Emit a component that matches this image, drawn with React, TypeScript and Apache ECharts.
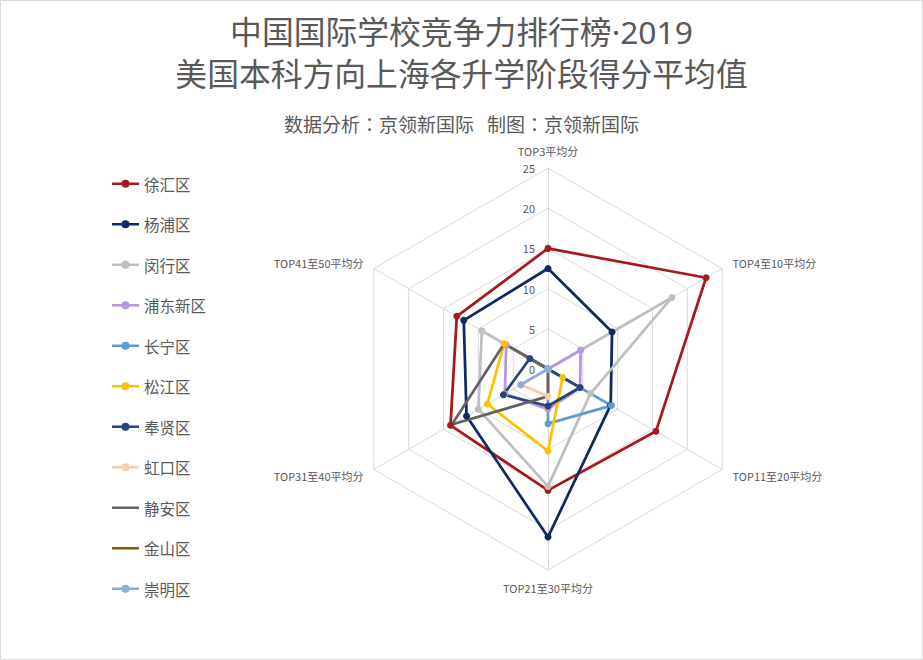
import React, { useEffect, useRef } from "react";
import * as echarts from "echarts";

const FONT = "'Noto Sans CJK SC', 'Noto Sans', sans-serif";
const TITLE_FONT = "'Noto Sans', 'Noto Sans CJK SC', sans-serif";
const SUB_FONT = "'Noto Sans CJK TC', 'Noto Sans CJK SC', sans-serif";

const titleLines = ["中国国际学校竞争力排行榜·2019", "美国本科方向上海各升学阶段得分平均值"];
const subtitle = "数据分析：京领新国际   制图：京领新国际";

// Indicators in the order of the reference (clockwise from top)
const indicators = [
  "TOP3平均分",
  "TOP4至10平均分",
  "TOP11至20平均分",
  "TOP21至30平均分",
  "TOP31至40平均分",
  "TOP41至50平均分",
];
const indicatorMax = 25;

const districts = [
  "徐汇区",
  "杨浦区",
  "闵行区",
  "浦东新区",
  "长宁区",
  "松江区",
  "奉贤区",
  "虹口区",
  "静安区",
  "金山区",
  "崇明区",
];

const colors = [
  "#A5191F",
  "#0E2A62",
  "#BFBFBF",
  "#B996E0",
  "#5B9BD5",
  "#FFC000",
  "#264478",
  "#F8CBAD",
  "#636363",
  "#7F6000",
  "#8EA9DB",
];

const noMarker = ["静安区", "金山区"];

// values: TOP3, TOP4-10, TOP11-20, TOP21-30, TOP31-40, TOP41-50
const xuhui = [15.0, 22.7, 15.5, 15.1, 14.0, 13.1];
const yangpu = [12.5, 9.2, 9.0, 20.9, 11.7, 12.1];
const minhang = [0, 17.8, 6.1, 14.6, 10.0, 9.5];
const pudong = [0, 4.7, 4.6, 5.0, 6.2, 6.0];
const changning = [0, 0, 9.1, 6.8, 0, 0];
const songjiang = [0, 0, 2.1, 10.2, 8.7, 6.3];
const fengxian = [0, 0, 4.6, 4.6, 6.4, 2.6];
const hongkou = [0, 0, 0, 3.4, 3.9, 0];
const jingan = [0, 0, 0, 3.4, 13.8, 6.3];
const jinshan = [0, 0, 0, 0, 0, 0];
const chongming = [0, 0, 0, 0, 3.9, 0];

const seriesValues = [
  xuhui,
  yangpu,
  minhang,
  pudong,
  changning,
  songjiang,
  fengxian,
  hongkou,
  jingan,
  jinshan,
  chongming,
];

// ECharts places indicators counter-clockwise; reorder to get clockwise layout
const order = [0, 5, 4, 3, 2, 1];

const iconMarker =
  "path://M0,0h0.01v0.01h-0.01Z M26.99,7.99h0.01v0.01h-0.01Z M0,2.75H27V5.25H0Z M9.5,4A4,4 0 1 1 17.5,4A4,4 0 1 1 9.5,4Z";
const iconLine =
  "path://M0,0h0.01v0.01h-0.01Z M26.99,7.99h0.01v0.01h-0.01Z M0,2.75H27V5.25H0Z";

export default function App() {
  const ref = useRef<HTMLDivElement>(null);

  useEffect(() => {
    document.body.style.margin = "0";
    if (!ref.current) return;
    const chart = echarts.init(ref.current, undefined, { renderer: "svg" });

    const option: any = {
      animation: false,
      backgroundColor: "#ffffff",
      textStyle: { fontFamily: FONT },
      title: [
        {
          text: titleLines.join("\n"),
          left: "center",
          top: 5,
          textStyle: {
            fontSize: 31.8,
            fontWeight: "normal",
            color: "#595959",
            lineHeight: 42,
            fontFamily: TITLE_FONT,
          },
        },
        {
          text: subtitle,
          left: "center",
          top: 107,
          textStyle: {
            fontSize: 19,
            fontWeight: "normal",
            color: "#595959",
            lineHeight: 22,
            fontFamily: SUB_FONT,
          },
        },
      ],
      legend: {
        orient: "vertical",
        left: 107,
        top: 171,
        itemWidth: 27,
        itemHeight: 8,
        itemGap: 25,
        selectedMode: false,
        textStyle: { color: "#595959", fontSize: 15.5, fontFamily: FONT },
        data: districts.map((name) => ({
          name,
          icon: noMarker.includes(name) ? iconLine : iconMarker,
        })),
      },
      radar: {
        center: [548, 369],
        radius: 201,
        startAngle: 90,
        shape: "polygon",
        splitNumber: 5,
        nameGap: 12,
        axisName: { color: "#595959", fontSize: 11, fontFamily: FONT },
        indicator: order.map((k, i) => {
          const ind: any = { name: indicators[k], max: indicatorMax, min: 0 };
          if (i === 0) ind.axisLabel = { show: true };
          return ind;
        }),
        axisLine: { lineStyle: { color: "#D9D9D9", width: 1 } },
        splitLine: { lineStyle: { color: "#D9D9D9", width: 1 } },
        splitArea: { show: false },
        axisTick: { show: false },
        axisLabel: {
          show: false,
          color: "#595959",
          fontSize: 11,
          margin: 13,
          fontFamily: FONT,
        },
      },
      graphic: [
        {
          type: "rect",
          shape: { x: 0.5, y: 0.5, width: 922, height: 659 },
          style: { fill: "none", stroke: "#D9D9D9", lineWidth: 1 },
          silent: true,
          z: -1,
        },
      ],
      series: [
        {
          type: "radar",
          silent: true,
          symbolSize: 7,
          emphasis: { disabled: true },
          data: districts.map((name, i) => ({
            name,
            value: order.map((k) => seriesValues[i][k]),
            symbol: noMarker.includes(name) ? "none" : "circle",
            symbolSize: 7,
            lineStyle: { color: colors[i], width: 2.75 },
            itemStyle: { color: colors[i] },
          })),
        },
      ],
    };

    chart.setOption(option);
    return () => chart.dispose();
  }, []);

  return <div ref={ref} style={{ width: 923, height: 660 }} />;
}
